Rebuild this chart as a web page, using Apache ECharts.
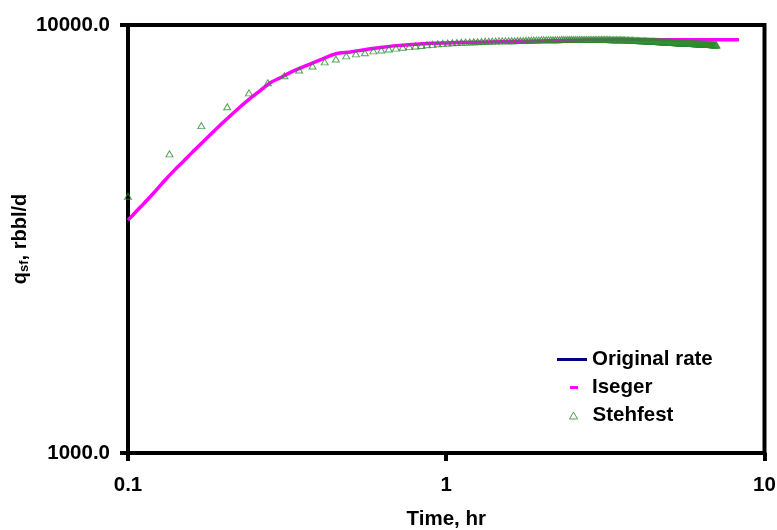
<!DOCTYPE html>
<html>
<head>
<meta charset="utf-8">
<script src="https://cdn.jsdelivr.net/npm/echarts@6/dist/echarts.min.js"></script>
<style>
  html, body { margin: 0; padding: 0; background: #fff; }
  #chart { width: 777px; height: 530px; }
</style>
</head>
<body>
<div id="chart"></div>
<script>
// q_sf vs time, log-log: original rate, Iseger and Stehfest inversions
const FONT = '"Liberation Sans", Arial, sans-serif';
const NAVY = '#000080', MAGENTA = '#ff00ff', GREEN = '#2a8a2a';

// tick labels keyed by decade exponent
const xTickLabels = { '-1': '0.1', '0': '1', '1': '10' };
const yTickLabels = { '3': '1000.0', '4': '10000.0' };

// time, hr (shared grid for the original rate and Iseger curves)
const curveTime = [0.1, 0.11, 0.12, 0.13, 0.14, 0.15, 0.16, 0.18, 0.2, 0.22,
  0.24, 0.26, 0.28, 0.3, 0.33, 0.36, 0.4, 0.45, 0.5, 0.56,
  0.63, 0.7, 0.8, 0.9, 1.0, 1.2, 1.5, 2, 2.5, 3,
  4, 5, 6, 7, 8.3];
const originalRate = [3500, 3770, 4040, 4320, 4580, 4820, 5060, 5510, 5940, 6340,
  6700, 7020, 7330, 7520, 7800, 8020, 8280, 8570, 8650, 8770,
  8870, 8950, 9020, 9060, 9080, 9110, 9140, 9180, 9210, 9230,
  9240, 9240, 9240, 9240, 9240];
const isegerRate = [3500, 3770, 4040, 4320, 4580, 4820, 5060, 5510, 5940, 6340,
  6700, 7020, 7330, 7520, 7800, 8020, 8280, 8570, 8650, 8770,
  8870, 8950, 9020, 9060, 9080, 9110, 9140, 9180, 9210, 9230,
  9240, 9240, 9240, 9240, 9240];

// Stehfest points
const stehTime = [0.1, 0.135, 0.17, 0.205, 0.24, 0.275, 0.31, 0.345, 0.38, 0.415,
  0.45, 0.485, 0.52, 0.555, 0.59, 0.625, 0.66, 0.695, 0.73, 0.765,
  0.8, 0.835, 0.87, 0.905, 0.94, 0.975, 1.01, 1.045, 1.08, 1.115,
  1.15, 1.185, 1.22, 1.255, 1.29, 1.325, 1.36, 1.395, 1.43, 1.465,
  1.5, 1.535, 1.57, 1.605, 1.64, 1.675, 1.71, 1.745, 1.78, 1.815,
  1.85, 1.885, 1.92, 1.955, 1.99, 2.025, 2.06, 2.095, 2.13, 2.165,
  2.2, 2.235, 2.27, 2.305, 2.34, 2.375, 2.41, 2.445, 2.48, 2.515,
  2.55, 2.585, 2.62, 2.655, 2.69, 2.725, 2.76, 2.795, 2.83, 2.865,
  2.9, 2.935, 2.97, 3.005, 3.04, 3.075, 3.11, 3.145, 3.18, 3.215,
  3.25, 3.285, 3.32, 3.355, 3.39, 3.425, 3.46, 3.495, 3.53, 3.565,
  3.6, 3.635, 3.67, 3.705, 3.74, 3.775, 3.81, 3.845, 3.88, 3.915,
  3.95, 3.985, 4.02, 4.055, 4.09, 4.125, 4.16, 4.195, 4.23, 4.265,
  4.3, 4.335, 4.37, 4.405, 4.44, 4.475, 4.51, 4.545, 4.58, 4.615,
  4.65, 4.685, 4.72, 4.755, 4.79, 4.825, 4.86, 4.895, 4.93, 4.965,
  5.0, 5.035, 5.07, 5.105, 5.14, 5.175, 5.21, 5.245, 5.28, 5.315,
  5.35, 5.385, 5.42, 5.455, 5.49, 5.525, 5.56, 5.595, 5.63, 5.665,
  5.7, 5.735, 5.77, 5.805, 5.84, 5.875, 5.91, 5.945, 5.98, 6.015,
  6.05, 6.085, 6.12, 6.155, 6.19, 6.225, 6.26, 6.295, 6.33, 6.365,
  6.4, 6.435, 6.47, 6.505, 6.54, 6.575, 6.61, 6.645, 6.68, 6.715,
  6.75, 6.785, 6.82, 6.855, 6.89, 6.925, 6.96, 6.995, 7.03, 7.065];
const stehRate = [3980, 5000, 5820, 6440, 6940, 7330, 7610, 7850, 8020, 8200,
  8330, 8470, 8560, 8610, 8700, 8740, 8790, 8830, 8870, 8900,
  8930, 8960, 8990, 9010, 9040, 9060, 9080, 9090, 9100, 9110,
  9120, 9130, 9140, 9140, 9150, 9160, 9160, 9170, 9170, 9180,
  9180, 9180, 9190, 9190, 9190, 9200, 9200, 9200, 9210, 9210,
  9210, 9220, 9220, 9220, 9230, 9230, 9230, 9230, 9240, 9240,
  9240, 9240, 9240, 9250, 9250, 9250, 9250, 9250, 9250, 9250,
  9250, 9250, 9250, 9250, 9250, 9250, 9250, 9250, 9250, 9250,
  9250, 9250, 9250, 9250, 9250, 9250, 9250, 9250, 9250, 9250,
  9250, 9240, 9240, 9240, 9240, 9240, 9240, 9240, 9240, 9230,
  9230, 9230, 9220, 9220, 9220, 9210, 9210, 9210, 9210, 9200,
  9200, 9200, 9200, 9190, 9190, 9190, 9180, 9180, 9180, 9170,
  9170, 9170, 9170, 9160, 9160, 9160, 9160, 9150, 9150, 9150,
  9140, 9140, 9140, 9140, 9130, 9130, 9130, 9120, 9120, 9120,
  9120, 9110, 9110, 9110, 9100, 9100, 9100, 9090, 9090, 9090,
  9090, 9080, 9080, 9080, 9080, 9070, 9070, 9070, 9070, 9060,
  9060, 9060, 9060, 9060, 9050, 9050, 9050, 9050, 9050, 9040,
  9040, 9040, 9040, 9040, 9030, 9030, 9030, 9030, 9030, 9020,
  9020, 9020, 9020, 9020, 9010, 9010, 9010, 9010, 9000, 9000,
  9000, 9000, 8990, 8990, 8990, 8990, 8980, 8980, 8980, 8980];

const pairs = (xs, ys) => xs.map((x, i) => [x, ys[i]]);
const decade = v => String(Math.round(Math.log10(v)));
const txt = { color: '#000', fontFamily: FONT, fontWeight: 'bold', fontSize: 20.5 };

const chart = echarts.init(document.getElementById('chart'), null, { renderer: 'canvas' });
chart.setOption({
  animation: false,
  backgroundColor: '#fff',
  grid: { left: 128, right: 12.5, top: 25, bottom: 77, show: true,
    outerBoundsMode: 'none', containLabel: false,
    borderColor: '#000', borderWidth: 4, backgroundColor: 'transparent' },
  xAxis: {
    type: 'log', logBase: 10, min: 0.1, max: 10,
    name: 'Time, hr', nameLocation: 'middle', nameGap: 56,
    nameTextStyle: txt,
    axisLine: { lineStyle: { color: '#000', width: 4 } },
    axisTick: { length: 8, lineStyle: { color: '#000', width: 4 } },
    minorTick: { show: false },
    axisLabel: { ...txt, margin: 22, showMinLabel: true, showMaxLabel: true,
      formatter: v => xTickLabels[decade(v)] || '' },
    splitLine: { show: false },
  },
  yAxis: {
    type: 'log', logBase: 10, min: 1000, max: 10000,
    name: '{q|q}{s|sf}{q|, rbbl/d}', nameLocation: 'middle', nameGap: 97,
    nameMoveOverlap: false,
    nameTextStyle: { rich: {
      q: { ...txt, fontSize: 20 },
      s: { ...txt, fontSize: 13, padding: [9, 0, 0, 0] },
    } },
    axisLine: { lineStyle: { color: '#000', width: 4 } },
    axisTick: { length: 8, lineStyle: { color: '#000', width: 4 } },
    axisLabel: { ...txt, margin: 18, showMinLabel: true, showMaxLabel: true,
      formatter: v => yTickLabels[decade(v)] || '' },
    splitLine: { show: false },
  },
  legend: [
    { data: [{ name: 'Original rate', icon: 'rect',
        itemStyle: { color: NAVY, borderWidth: 0 } }],
      left: 552, top: 344, itemWidth: 30, itemHeight: 3, textStyle: txt },
    { data: [{ name: 'Iseger', icon: 'rect',
        itemStyle: { color: MAGENTA, borderWidth: 0 } }],
      left: 565, top: 372, itemWidth: 8, itemHeight: 3,
      textStyle: { ...txt, padding: [0, 0, 0, 9] } },
    { data: [{ name: 'Stehfest', icon: 'triangle',
        itemStyle: { color: 'rgba(0,0,0,0)', borderColor: GREEN, borderWidth: 1 } }],
      left: 564, top: 400, itemWidth: 8, itemHeight: 7,
      textStyle: { ...txt, padding: [0, 0, 0, 10] } },
  ],
  series: [
    { name: 'Original rate', type: 'line', z: 2, showSymbol: false, smooth: 0.3,
      data: pairs(curveTime, originalRate),
      itemStyle: { color: NAVY }, lineStyle: { color: NAVY, width: 2 } },
    { name: 'Iseger', type: 'line', z: 3, showSymbol: false, smooth: 0.3,
      data: pairs(curveTime, isegerRate),
      itemStyle: { color: MAGENTA }, lineStyle: { color: MAGENTA, width: 3.5 } },
    { name: 'Stehfest', type: 'scatter', z: 4, symbol: 'triangle', symbolSize: [7, 6],
      data: pairs(stehTime, stehRate),
      itemStyle: { color: 'rgba(0,0,0,0)', borderColor: GREEN, borderWidth: 1 } },
  ],
});
</script>
</body>
</html>
